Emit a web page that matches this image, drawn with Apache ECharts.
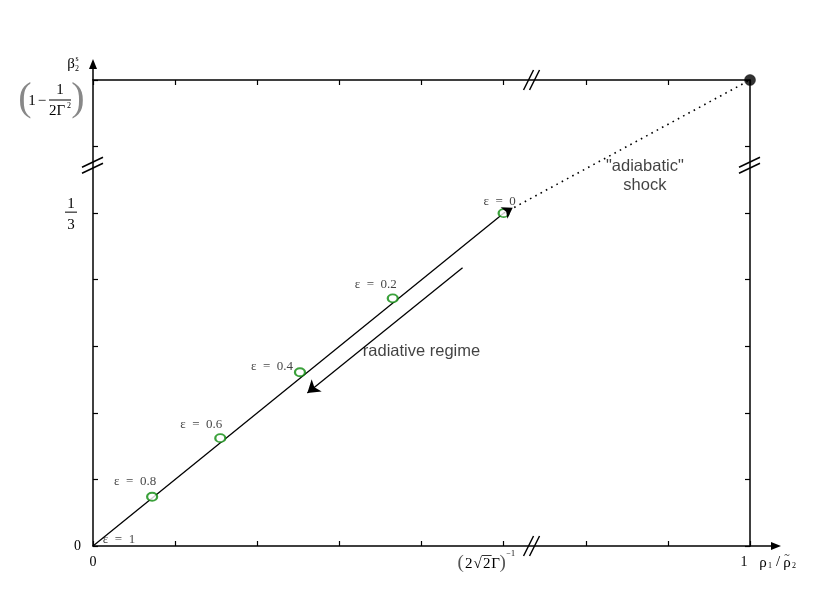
<!DOCTYPE html>
<html>
<head>
<meta charset="utf-8">
<script src="https://cdn.jsdelivr.net/npm/echarts@6/dist/echarts.min.js"></script>
<style>
  html, body { margin: 0; background: #fff; }
  #chart { width: 830px; height: 609px; }
</style>
</head>
<body>
<div id="chart"></div>
<script>
// schematic axes: x runs 0..8 (8 = 1), y runs 0..7 (5 = 1/3, 7 = 1 - 1/2Γ²)
const xMax = 8;
const yMax = 7;
const xBreak = 5.34;
const yBreak = 5.72;

// ε points along the radiative branch
const epsValues = ["1", "0.8", "0.6", "0.4", "0.2", "0"];
const epsX = [0, 0.72, 1.55, 2.52, 3.65, 5.0];
const epsY = [0, 0.74, 1.62, 2.61, 3.72, 5.0];

// adiabatic end point (top right)
const adiabaticEnd = [8, 7];

// "radiative regime" arrow
const regimeFrom = [4.5, 4.18];
const regimeTo = [2.61, 2.3];

// text notes
const noteText = ["radiative regime", "\"adiabatic\"\nshock"];
const noteX = [4.0, 6.72];
const noteY = [2.92, 5.56];

const labelOffsets = [[26, -6], [-17, -15], [-19, -14], [-28, -6], [-17, -14], [-4, -12]];

const serif = "Liberation Serif";
const sans = "Liberation Sans";

const chart = echarts.init(document.getElementById("chart"));

const axisLine = { onZero: false, lineStyle: { color: "#000", width: 1.5 } };
const axisTick = { inside: true, length: 5, lineStyle: { color: "#000", width: 1.2 } };

const option = {
  animation: false,
  grid: { left: 93, right: 80, top: 80, bottom: 63 },
  xAxis: [
    {
      type: "value", min: 0, max: xMax, interval: 1, position: "bottom",
      axisLine, axisTick, splitLine: { show: false },
      axisLabel: {
        margin: 9,
        fontFamily: serif, fontSize: 14, color: "#000",
        formatter: (v) => (v === 0 ? "0" : v === xMax ? "{one|1}" : ""),
        rich: { one: { fontFamily: serif, fontSize: 14, color: "#000", padding: [0, 12, 0, 0] } },
      },
    },
    {
      type: "value", min: 0, max: xMax, interval: 1, position: "top",
      axisLine, axisTick, splitLine: { show: false }, axisLabel: { show: false },
    },
  ],
  yAxis: [
    {
      type: "value", min: 0, max: yMax, interval: 1, position: "left",
      axisLine, axisTick, splitLine: { show: false },
      axisLabel: {
        margin: 12, fontFamily: serif, fontSize: 14, color: "#000",
        formatter: (v) => (v === 0 ? "0" : ""),
      },
    },
    {
      type: "value", min: 0, max: yMax, interval: 1, position: "right",
      axisLine, axisTick, splitLine: { show: false }, axisLabel: { show: false },
    },
  ],
  series: [
    {
      name: "radiative",
      type: "line",
      data: [[epsX[0], epsY[0]], [epsX[5], epsY[5]]],
      showSymbol: false,
      lineStyle: { color: "#000", width: 1.3 },
      z: 3,
    },
    {
      name: "adiabatic",
      type: "line",
      data: [[epsX[5], epsY[5]], adiabaticEnd],
      showSymbol: false,
      lineStyle: { color: "#000", width: 1.6, type: [1.6, 4.4] },
      z: 3,
    },
    {
      name: "eps points",
      type: "scatter",
      data: epsX.slice(1).map((x, i) => [x, epsY[i + 1]]),
      symbol: "emptyCircle",
      symbolSize: [10, 8],
      itemStyle: { color: "#0a8a0a", borderColor: "#0a8a0a", borderWidth: 1.4 },
      z: 5,
    },
    {
      name: "end point",
      type: "scatter",
      data: [adiabaticEnd],
      symbol: "circle",
      symbolSize: 11,
      itemStyle: { color: "#000", borderColor: "#000", borderWidth: 0.5 },
      z: 6,
    },
    {
      name: "eps labels",
      type: "scatter",
      data: epsValues.map((v, i) => ({
        value: [epsX[i], epsY[i]],
        label: { offset: labelOffsets[i] },
      })),
      symbolSize: 1,
      itemStyle: { color: "rgba(0,0,0,0)" },
      label: {
        show: true, position: "inside",
        formatter: (p) => "ε  =  " + epsValues[p.dataIndex],
        fontFamily: serif, fontSize: 13, color: "#111",
      },
      z: 7,
    },
    {
      name: "notes",
      type: "scatter",
      data: noteText.map((t, i) => [noteX[i], noteY[i]]),
      symbolSize: 1,
      itemStyle: { color: "rgba(0,0,0,0)" },
      label: {
        show: true, position: "inside",
        formatter: (p) => noteText[p.dataIndex],
        fontFamily: sans, fontSize: 16.5, color: "#111", lineHeight: 19,
      },
      z: 7,
    },
    {
      name: "arrows",
      type: "lines",
      coordinateSystem: "cartesian2d",
      symbol: ["none", "arrow"],
      data: [
        { coords: [regimeFrom, regimeTo], symbolSize: 12, lineStyle: { width: 1.3 } },
        { coords: [[epsX[5], epsY[5]], [5.11, 5.08]], symbolSize: 10, lineStyle: { width: 0.1 } },
      ],
      lineStyle: { color: "#000", width: 1.3, opacity: 1 },
      z: 8,
    },
  ],
};

chart.setOption(option);

// decorations: axis arrows, break marks, math labels
const px = (x, y) => chart.convertToPixel({ gridIndex: 0 }, [x, y]);
const xEnd = px(xMax, 0);
const yEnd = px(0, yMax);
const g = [];
const ln = (x1, y1, x2, y2, w) =>
  g.push({ type: "line", shape: { x1, y1, x2, y2 }, style: { stroke: "#000", lineWidth: w || 1.5 }, z: 20 });
const txt = (text, x, y, size, opts) =>
  g.push({
    type: "text", x, y, z: 20,
    style: Object.assign({ text, fontFamily: serif, fontSize: size, fill: "#000", align: "center", verticalAlign: "middle" }, opts || {}),
  });

// axis extensions with arrow heads
ln(xEnd[0], xEnd[1], xEnd[0] + 26, xEnd[1]);
g.push({ type: "polygon", shape: { points: [[xEnd[0] + 31, xEnd[1]], [xEnd[0] + 21, xEnd[1] - 4], [xEnd[0] + 21, xEnd[1] + 4]] }, style: { fill: "#000" }, z: 20 });
ln(yEnd[0], yEnd[1], yEnd[0], yEnd[1] - 16);
g.push({ type: "polygon", shape: { points: [[yEnd[0], yEnd[1] - 21], [yEnd[0] - 4, yEnd[1] - 11], [yEnd[0] + 4, yEnd[1] - 11]] }, style: { fill: "#000" }, z: 20 });

// break marks
const bx = px(xBreak, 0), bxt = px(xBreak, yMax);
[bx, bxt].forEach((p) => {
  ln(p[0] - 8, p[1] + 10, p[0] + 2, p[1] - 10);
  ln(p[0] - 2, p[1] + 10, p[0] + 8, p[1] - 10);
});
const by = px(0, yBreak), byr = px(xMax, yBreak);
[by, byr].forEach((p) => {
  ln(p[0] - 11, p[1] + 2, p[0] + 10, p[1] - 8);
  ln(p[0] - 11, p[1] + 8, p[0] + 10, p[1] - 2);
});

// y label 1/3
const y5 = px(0, 5);
txt("1", y5[0] - 22, y5[1] - 9, 15);
ln(y5[0] - 28, y5[1] - 1, y5[0] - 16, y5[1] - 1, 1);
txt("3", y5[0] - 22, y5[1] + 12, 15);

// y label (1 - 1/2Γ²)
const y7 = px(0, yMax);
txt("(", y7[0] - 68, y7[1] + 19, 40, { fill: "#888", fontWeight: "lighter" });
txt(")", y7[0] - 15, y7[1] + 19, 40, { fill: "#888", fontWeight: "lighter" });
txt("1", y7[0] - 61, y7[1] + 21, 15);
txt("−", y7[0] - 51, y7[1] + 21, 15);
txt("1", y7[0] - 33, y7[1] + 10, 15);
ln(y7[0] - 44, y7[1] + 20, y7[0] - 22, y7[1] + 20, 1);
txt("2Γ", y7[0] - 36, y7[1] + 31, 15);
txt("2", y7[0] - 24, y7[1] + 26, 8);

// y axis name β₂ˢ
txt("β", yEnd[0] - 22, yEnd[1] - 16, 15);
txt("2", yEnd[0] - 16, yEnd[1] - 11, 8);
txt("s", yEnd[0] - 16, yEnd[1] - 21, 8);

// x label (2√2Γ)^-1 at x = 5
const x5 = px(5, 0);
txt("(", x5[0] - 43, x5[1] + 17, 19, { fill: "#555" });
txt("2", x5[0] - 35, x5[1] + 18, 15);
txt("√", x5[0] - 26, x5[1] + 18, 15);
ln(x5[0] - 22, x5[1] + 9.5, x5[0] - 12, x5[1] + 9.5, 0.8);
txt("2", x5[0] - 17, x5[1] + 18, 15);
txt("Γ", x5[0] - 8, x5[1] + 18, 15);
txt(")", x5[0] - 1, x5[1] + 17, 19, { fill: "#555" });
txt("−1", x5[0] + 7, x5[1] + 8, 8);

// x axis name ρ₁ / ρ̃₂
txt("ρ", xEnd[0] + 13, xEnd[1] + 17, 15);
txt("1", xEnd[0] + 20, xEnd[1] + 20, 8);
txt("/", xEnd[0] + 28, xEnd[1] + 16, 15);
txt("ρ", xEnd[0] + 37, xEnd[1] + 17, 15);
txt("~", xEnd[0] + 37, xEnd[1] + 9, 10);
txt("2", xEnd[0] + 44, xEnd[1] + 20, 8);

chart.setOption({ graphic: g });
</script>
</body>
</html>
